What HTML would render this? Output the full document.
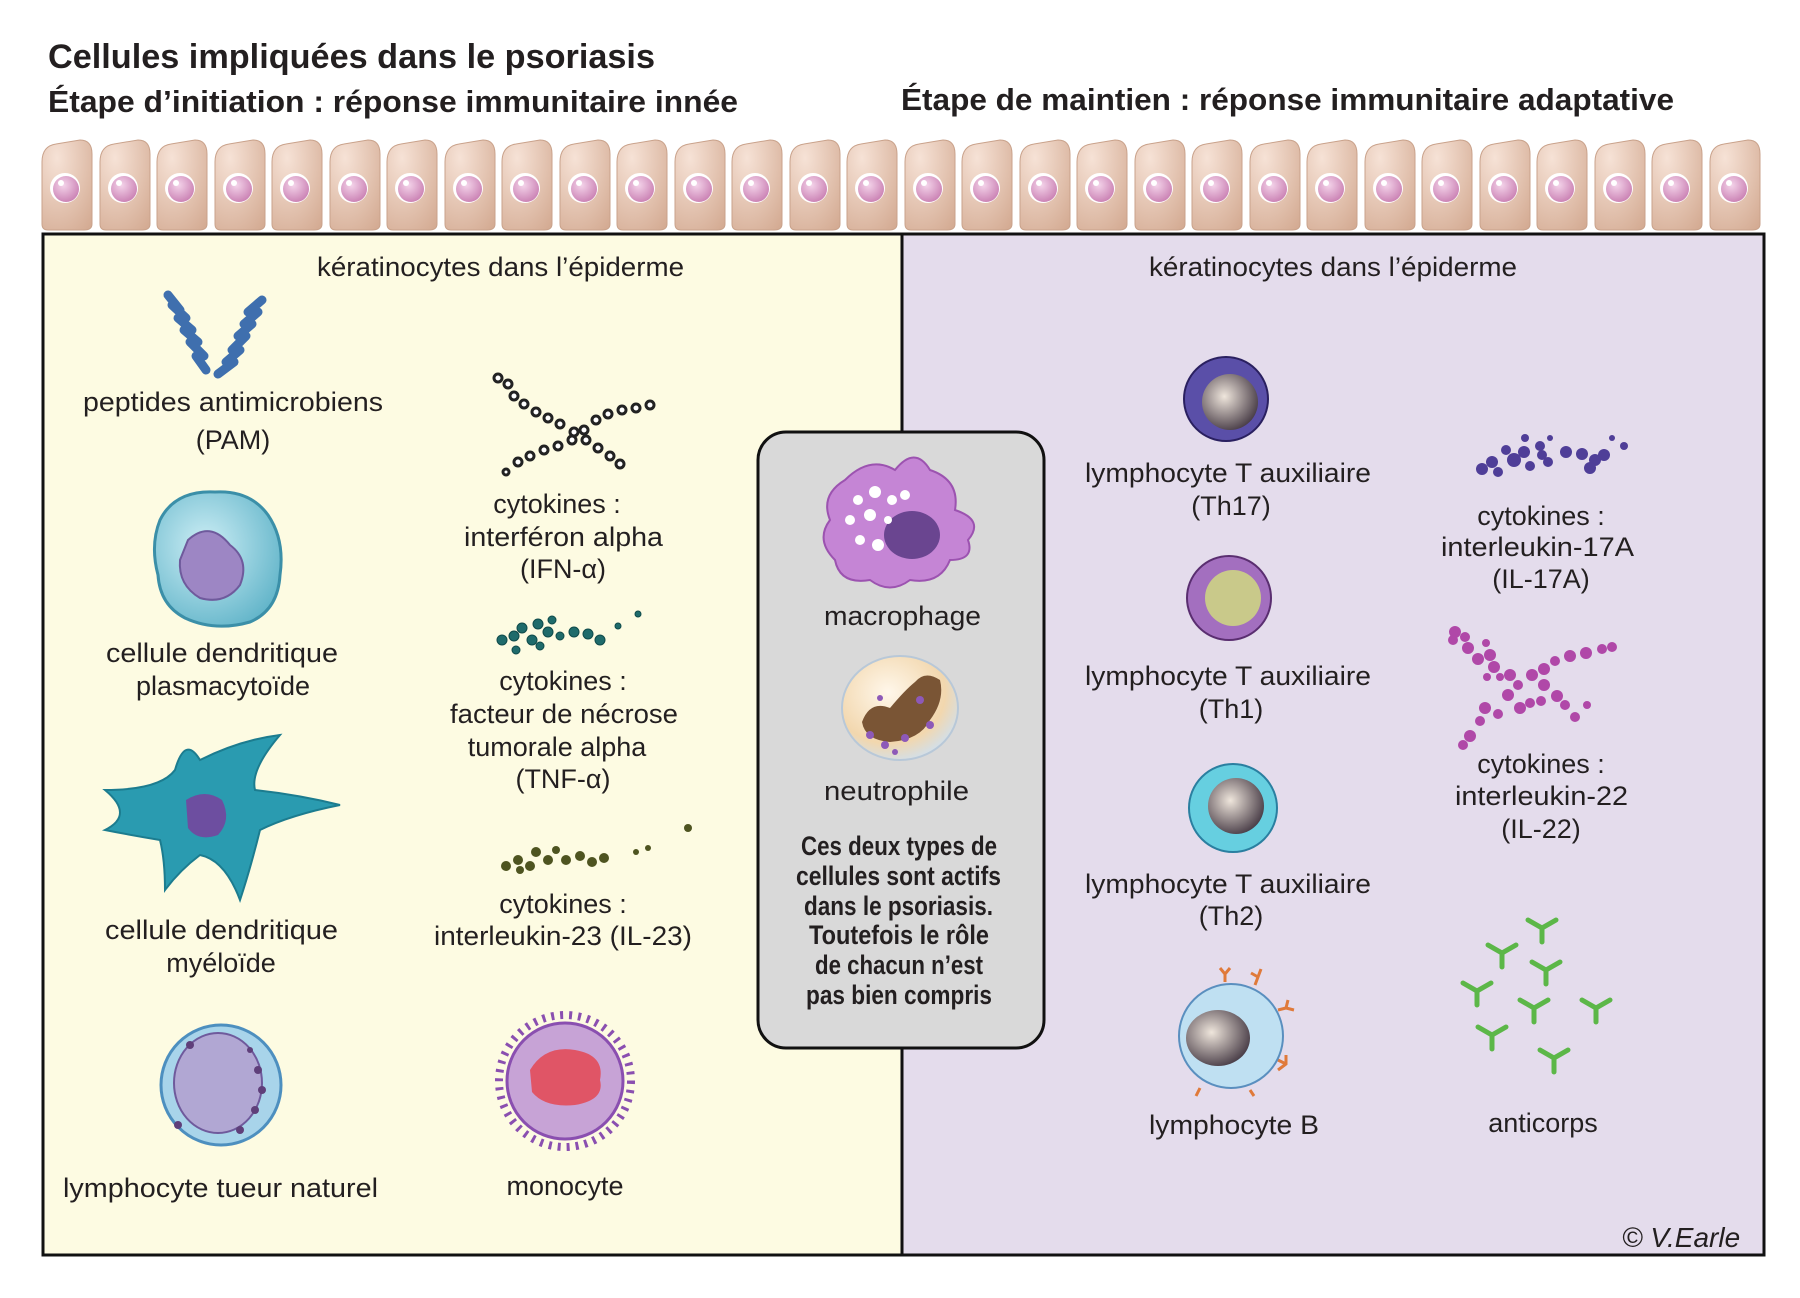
<!DOCTYPE html>
<html><head><meta charset="utf-8"><style>
html,body{margin:0;padding:0;background:#fff;}
svg{display:block;}
text{font-family:"Liberation Sans",sans-serif;fill:#231f20;}
.l{font-size:27px;}
.b{font-weight:bold;}
</style></head><body>
<svg width="1800" height="1298" viewBox="0 0 1800 1298" xmlns="http://www.w3.org/2000/svg">
<defs>
<radialGradient id="kg" cx="0.3" cy="0.2" r="1"><stop offset="0" stop-color="#f6e2d6"/><stop offset="1" stop-color="#d4ab93"/></radialGradient>
<radialGradient id="ng" cx="0.4" cy="0.35" r="0.7"><stop offset="0" stop-color="#f4d4ea"/><stop offset="1" stop-color="#c97fb2"/></radialGradient>
<g id="ker">
<path d="M2,22 Q2,6 16,4 L40,0 Q52,0 52,14 L52,84 Q52,90 44,90 L8,90 Q2,90 2,84 Z" fill="url(#kg)" stroke="#c9a28b" stroke-width="1"/>
<circle cx="25" cy="48" r="15" fill="#fff"/>
<circle cx="26" cy="49" r="13" fill="url(#ng)"/>
<circle cx="21" cy="43" r="3" fill="#fff"/>
</g>
<g id="ab"><path d="M0,0 L14,8 L28,0 M14,8 L14,22" stroke="#5cb748" stroke-width="5" fill="none" stroke-linecap="round"/></g>
<radialGradient id="pdc" cx="0.4" cy="0.4" r="0.7"><stop offset="0" stop-color="#cdeef5"/><stop offset="1" stop-color="#5fb3c8"/></radialGradient>
<radialGradient id="inner" cx="0.4" cy="0.4" r="0.7"><stop offset="0" stop-color="#efe6dc"/><stop offset="1" stop-color="#3a2e3a"/></radialGradient>
<radialGradient id="neut" cx="0.4" cy="0.35" r="0.7"><stop offset="0" stop-color="#fff7ea"/><stop offset="0.7" stop-color="#f2d7ae"/><stop offset="1" stop-color="#cfe0f0"/></radialGradient>
</defs>

<text x="48" y="68" class="b" font-size="34" textLength="607" lengthAdjust="spacingAndGlyphs">Cellules impliquées dans le psoriasis</text>
<text x="48" y="112" class="b" font-size="31" textLength="690" lengthAdjust="spacingAndGlyphs">Étape d’initiation : réponse immunitaire innée</text>
<text x="901" y="110" class="b" font-size="31" textLength="773" lengthAdjust="spacingAndGlyphs">Étape de maintien : réponse immunitaire adaptative</text>

<g>
<use href="#ker" x="40" y="140"/><use href="#ker" x="98" y="140"/><use href="#ker" x="155" y="140"/><use href="#ker" x="213" y="140"/><use href="#ker" x="270" y="140"/><use href="#ker" x="328" y="140"/><use href="#ker" x="385" y="140"/><use href="#ker" x="443" y="140"/><use href="#ker" x="500" y="140"/><use href="#ker" x="558" y="140"/><use href="#ker" x="615" y="140"/><use href="#ker" x="673" y="140"/><use href="#ker" x="730" y="140"/><use href="#ker" x="788" y="140"/><use href="#ker" x="845" y="140"/><use href="#ker" x="903" y="140"/><use href="#ker" x="960" y="140"/><use href="#ker" x="1018" y="140"/><use href="#ker" x="1075" y="140"/><use href="#ker" x="1133" y="140"/><use href="#ker" x="1190" y="140"/><use href="#ker" x="1248" y="140"/><use href="#ker" x="1305" y="140"/><use href="#ker" x="1363" y="140"/><use href="#ker" x="1420" y="140"/><use href="#ker" x="1478" y="140"/><use href="#ker" x="1535" y="140"/><use href="#ker" x="1593" y="140"/><use href="#ker" x="1650" y="140"/><use href="#ker" x="1708" y="140"/>
</g>

<rect x="43" y="234" width="859" height="1021" fill="#fdfbe2" stroke="#111" stroke-width="3"/>
<rect x="902" y="234" width="862" height="1021" fill="#e4dcec" stroke="#111" stroke-width="3"/>

<text x="317" y="276" class="l" textLength="367" lengthAdjust="spacingAndGlyphs">kératinocytes dans l’épiderme</text>
<text x="1149" y="276" class="l" textLength="368" lengthAdjust="spacingAndGlyphs">kératinocytes dans l’épiderme</text>

<g stroke="#3f6fae" stroke-width="9" fill="none" stroke-linecap="round">
<path d="M168,295 L180,310 M172,305 L186,318 M178,318 L192,330 M184,330 L198,342 M190,342 L204,356 M196,356 L206,370"/>
<path d="M262,300 L248,312 M258,312 L244,324 M252,324 L238,336 M246,336 L232,350 M240,350 L226,362 M234,362 L218,374"/>
</g>
<text x="83" y="411" class="l" textLength="300" lengthAdjust="spacingAndGlyphs">peptides antimicrobiens</text>
<text x="233" y="449" class="l" text-anchor="middle">(PAM)</text>

<path d="M160,520 Q175,490 215,492 Q250,490 268,515 Q285,540 280,575 Q278,610 250,622 Q215,632 185,618 Q160,605 158,575 Q150,545 160,520Z" fill="url(#pdc)" stroke="#3b8fa8" stroke-width="3"/>
<path d="M188,540 Q210,520 230,545 Q250,560 240,585 Q225,605 200,598 Q178,585 180,560Z" fill="#9d86c4" stroke="#6f5a9c" stroke-width="2"/>
<text x="106" y="662" class="l" textLength="232" lengthAdjust="spacingAndGlyphs">cellule dendritique</text>
<text x="223" y="695" class="l" text-anchor="middle">plasmacytoïde</text>

<path d="M105,790 Q160,790 175,770 Q185,735 200,760 Q240,740 280,735 Q250,770 255,790 Q300,795 340,805 Q290,815 260,830 Q250,870 240,900 Q225,860 200,855 Q180,870 165,890 Q165,860 160,840 Q130,835 105,830 Q135,815 105,790Z" fill="#2a9bb0" stroke="#1c7c8f" stroke-width="2"/>
<path d="M186,800 Q205,788 222,800 Q232,820 218,835 Q198,842 188,828Z" fill="#6d4ea0"/>
<text x="105" y="939" class="l" textLength="233" lengthAdjust="spacingAndGlyphs">cellule dendritique</text>
<text x="221" y="972" class="l" text-anchor="middle">myéloïde</text>

<circle cx="221" cy="1085" r="60" fill="#a8d4ea" stroke="#4d8fbf" stroke-width="3"/>
<ellipse cx="218" cy="1083" rx="44" ry="50" fill="#b1a7d3" stroke="#6f5a9c" stroke-width="2"/>
<g fill="#5f3f7a"><circle cx="258" cy="1070" r="4"/><circle cx="262" cy="1090" r="4"/><circle cx="255" cy="1110" r="4"/><circle cx="240" cy="1130" r="4"/><circle cx="190" cy="1045" r="4"/><circle cx="178" cy="1125" r="4"/><circle cx="250" cy="1050" r="3"/></g>
<text x="63" y="1197" class="l" textLength="315" lengthAdjust="spacingAndGlyphs">lymphocyte tueur naturel</text>

<g fill="#fff" stroke="#222" stroke-width="3">
<circle cx="498" cy="378" r="4"/><circle cx="508" cy="384" r="4"/><circle cx="514" cy="396" r="4"/><circle cx="524" cy="404" r="4"/><circle cx="536" cy="412" r="4"/><circle cx="548" cy="418" r="4"/><circle cx="560" cy="424" r="4"/><circle cx="574" cy="432" r="4"/><circle cx="586" cy="440" r="4"/><circle cx="598" cy="448" r="4"/><circle cx="610" cy="456" r="4"/><circle cx="620" cy="464" r="4"/>
<circle cx="650" cy="405" r="4"/><circle cx="636" cy="408" r="4"/><circle cx="622" cy="410" r="4"/><circle cx="608" cy="414" r="4"/><circle cx="596" cy="420" r="4"/><circle cx="584" cy="430" r="4"/><circle cx="572" cy="440" r="4"/><circle cx="558" cy="446" r="4"/><circle cx="544" cy="450" r="4"/><circle cx="530" cy="456" r="4"/><circle cx="518" cy="462" r="4"/><circle cx="506" cy="472" r="3"/>
</g>
<text x="557" y="513" class="l" text-anchor="middle">cytokines :</text>
<text x="464" y="546" class="l" textLength="199" lengthAdjust="spacingAndGlyphs">interféron alpha</text>
<text x="563" y="578" class="l" text-anchor="middle">(IFN-α)</text>

<g fill="#1f6b6b" stroke="#0f4a4a" stroke-width="1">
<circle cx="502" cy="640" r="5"/><circle cx="514" cy="636" r="5"/><circle cx="522" cy="628" r="5"/><circle cx="532" cy="640" r="5"/><circle cx="538" cy="624" r="5"/><circle cx="548" cy="632" r="5"/><circle cx="552" cy="620" r="4"/><circle cx="560" cy="636" r="4"/><circle cx="574" cy="632" r="5"/><circle cx="588" cy="634" r="5"/><circle cx="600" cy="640" r="5"/><circle cx="618" cy="626" r="3"/><circle cx="638" cy="614" r="3"/><circle cx="516" cy="650" r="4"/><circle cx="540" cy="646" r="4"/>
</g>
<text x="563" y="690" class="l" text-anchor="middle">cytokines :</text>
<text x="450" y="723" class="l" textLength="228" lengthAdjust="spacingAndGlyphs">facteur de nécrose</text>
<text x="557" y="756" class="l" text-anchor="middle">tumorale alpha</text>
<text x="563" y="788" class="l" text-anchor="middle">(TNF-α)</text>

<g fill="#4e5420">
<circle cx="506" cy="866" r="5"/><circle cx="518" cy="860" r="5"/><circle cx="530" cy="866" r="5"/><circle cx="536" cy="852" r="5"/><circle cx="548" cy="860" r="5"/><circle cx="556" cy="850" r="4"/><circle cx="566" cy="860" r="5"/><circle cx="580" cy="856" r="5"/><circle cx="592" cy="862" r="5"/><circle cx="604" cy="858" r="5"/><circle cx="636" cy="852" r="3"/><circle cx="648" cy="848" r="3"/><circle cx="688" cy="828" r="4"/><circle cx="520" cy="870" r="4"/>
</g>
<text x="563" y="913" class="l" text-anchor="middle">cytokines :</text>
<text x="434" y="945" class="l" textLength="258" lengthAdjust="spacingAndGlyphs">interleukin-23 (IL-23)</text>

<circle cx="565" cy="1081" r="66" fill="none" stroke="#8a4fb0" stroke-width="8" stroke-dasharray="3 6"/>
<circle cx="565" cy="1081" r="58" fill="#c7a3d6" stroke="#8a4fb0" stroke-width="3"/>
<path d="M530,1070 Q545,1045 575,1050 Q605,1055 600,1080 Q605,1100 575,1105 Q545,1108 532,1092Z" fill="#e05566"/>
<text x="565" y="1195" class="l" text-anchor="middle">monocyte</text>

<rect x="758" y="432" width="286" height="616" rx="28" fill="#d9d9d9" stroke="#111" stroke-width="3"/>
<path d="M845,480 Q870,455 895,470 Q915,445 930,470 Q960,480 955,510 Q985,520 968,540 Q975,560 950,560 Q940,585 910,580 Q890,595 870,580 Q840,585 835,560 Q815,540 830,520 Q820,495 845,480Z" fill="#c585d5" stroke="#9c53b0" stroke-width="2"/>
<ellipse cx="912" cy="535" rx="28" ry="24" fill="#6a4590"/>
<g fill="#fff"><circle cx="858" cy="500" r="5"/><circle cx="875" cy="492" r="6"/><circle cx="892" cy="500" r="5"/><circle cx="850" cy="520" r="5"/><circle cx="870" cy="515" r="6"/><circle cx="888" cy="520" r="4"/><circle cx="860" cy="540" r="5"/><circle cx="878" cy="545" r="6"/><circle cx="905" cy="495" r="5"/></g>
<text x="824" y="625" class="l" textLength="157" lengthAdjust="spacingAndGlyphs">macrophage</text>
<ellipse cx="900" cy="708" rx="58" ry="52" fill="url(#neut)" stroke="#b8c8d8" stroke-width="2"/>
<path d="M862,722 Q870,700 890,708 Q905,690 915,682 Q925,670 940,680 Q945,700 930,720 Q920,740 890,742 Q865,740 862,722Z" fill="#7a5535"/>
<g fill="#8d59b8"><circle cx="870" cy="735" r="4"/><circle cx="885" cy="745" r="4"/><circle cx="905" cy="738" r="4"/><circle cx="920" cy="700" r="4"/><circle cx="930" cy="725" r="4"/><circle cx="880" cy="698" r="3"/><circle cx="895" cy="752" r="3"/></g>
<text x="824" y="800" class="l" textLength="145" lengthAdjust="spacingAndGlyphs">neutrophile</text>
<g font-size="27">
<text x="801" y="855" textLength="196" lengthAdjust="spacingAndGlyphs" font-weight="bold">Ces deux types de</text>
<text x="796" y="885" textLength="205" lengthAdjust="spacingAndGlyphs" font-weight="bold">cellules sont actifs</text>
<text x="804" y="915" textLength="189" lengthAdjust="spacingAndGlyphs" font-weight="bold">dans le psoriasis.</text>
<text x="809" y="944" textLength="180" lengthAdjust="spacingAndGlyphs" font-weight="bold">Toutefois le rôle</text>
<text x="815" y="974" textLength="168" lengthAdjust="spacingAndGlyphs" font-weight="bold">de chacun n’est</text>
<text x="806" y="1004" textLength="186" lengthAdjust="spacingAndGlyphs" font-weight="bold">pas bien compris</text>
</g>

<circle cx="1226" cy="399" r="42" fill="#5a4fa8" stroke="#2a2060" stroke-width="2"/>
<circle cx="1230" cy="402" r="28" fill="url(#inner)"/>
<text x="1085" y="482" class="l" textLength="286" lengthAdjust="spacingAndGlyphs">lymphocyte T auxiliaire</text>
<text x="1231" y="515" class="l" text-anchor="middle">(Th17)</text>

<circle cx="1229" cy="598" r="42" fill="#a36fbf" stroke="#5a2e70" stroke-width="2"/>
<circle cx="1233" cy="598" r="28" fill="#c9c98a"/>
<text x="1085" y="685" class="l" textLength="286" lengthAdjust="spacingAndGlyphs">lymphocyte T auxiliaire</text>
<text x="1231" y="718" class="l" text-anchor="middle">(Th1)</text>

<circle cx="1233" cy="808" r="44" fill="#66cfe0" stroke="#2a7fa0" stroke-width="2"/>
<circle cx="1236" cy="806" r="28" fill="url(#inner)"/>
<text x="1085" y="893" class="l" textLength="286" lengthAdjust="spacingAndGlyphs">lymphocyte T auxiliaire</text>
<text x="1231" y="925" class="l" text-anchor="middle">(Th2)</text>

<g stroke="#e07a3a" stroke-width="3" fill="none">
<path d="M1225,982 l0,-8 m-5,-6 l5,6 l5,-6 M1255,985 l3,-8 m-7,-4 l7,4 l3,-8 M1278,1010 l8,-2 m2,-8 l-2,8 l8,2 M1278,1060 l8,4 m0,-9 l0,9 l-8,6 M1250,1090 l4,6 M1200,1088 l-4,8"/>
</g>
<circle cx="1231" cy="1036" r="52" fill="#bfe0f2" stroke="#5a8fbf" stroke-width="2"/>
<ellipse cx="1218" cy="1038" rx="32" ry="28" fill="url(#inner)"/>
<text x="1149" y="1134" class="l" textLength="170" lengthAdjust="spacingAndGlyphs">lymphocyte B</text>

<g fill="#4f3e98">
<circle cx="1482" cy="469" r="6"/><circle cx="1492" cy="462" r="6"/><circle cx="1498" cy="472" r="5"/><circle cx="1506" cy="450" r="5"/><circle cx="1514" cy="460" r="7"/><circle cx="1524" cy="452" r="6"/><circle cx="1530" cy="466" r="5"/><circle cx="1542" cy="455" r="5"/><circle cx="1548" cy="462" r="5"/><circle cx="1525" cy="438" r="4"/><circle cx="1540" cy="446" r="5"/><circle cx="1566" cy="452" r="6"/><circle cx="1582" cy="454" r="6"/><circle cx="1595" cy="460" r="6"/><circle cx="1604" cy="455" r="6"/><circle cx="1590" cy="468" r="6"/><circle cx="1624" cy="446" r="4"/><circle cx="1612" cy="438" r="3"/><circle cx="1550" cy="438" r="3"/>
</g>
<text x="1541" y="525" class="l" text-anchor="middle">cytokines :</text>
<text x="1441" y="556" class="l" textLength="193" lengthAdjust="spacingAndGlyphs">interleukin-17A</text>
<text x="1541" y="588" class="l" text-anchor="middle">(IL-17A)</text>

<g fill="#b048a8" transform="translate(0,45)">
<circle cx="1455" cy="587" r="6"/><circle cx="1465" cy="592" r="5"/><circle cx="1453" cy="595" r="5"/><circle cx="1468" cy="603" r="6"/><circle cx="1486" cy="598" r="4"/><circle cx="1490" cy="610" r="6"/><circle cx="1478" cy="614" r="6"/><circle cx="1494" cy="622" r="6"/><circle cx="1487" cy="632" r="4"/><circle cx="1500" cy="632" r="4"/><circle cx="1510" cy="630" r="6"/><circle cx="1518" cy="640" r="5"/><circle cx="1532" cy="630" r="6"/><circle cx="1544" cy="624" r="6"/><circle cx="1555" cy="616" r="5"/><circle cx="1570" cy="611" r="6"/><circle cx="1586" cy="608" r="6"/><circle cx="1602" cy="604" r="5"/><circle cx="1612" cy="602" r="5"/><circle cx="1544" cy="640" r="6"/><circle cx="1557" cy="651" r="6"/><circle cx="1565" cy="660" r="5"/><circle cx="1575" cy="672" r="5"/><circle cx="1508" cy="650" r="6"/><circle cx="1520" cy="663" r="6"/><circle cx="1485" cy="663" r="6"/><circle cx="1498" cy="669" r="5"/><circle cx="1480" cy="676" r="5"/><circle cx="1470" cy="691" r="6"/><circle cx="1463" cy="700" r="5"/><circle cx="1530" cy="658" r="5"/><circle cx="1541" cy="656" r="5"/><circle cx="1587" cy="660" r="4"/>
</g>
<text x="1541" y="773" class="l" text-anchor="middle">cytokines :</text>
<text x="1455" y="805" class="l" textLength="173" lengthAdjust="spacingAndGlyphs">interleukin-22</text>
<text x="1541" y="838" class="l" text-anchor="middle">(IL-22)</text>

<use href="#ab" x="1528" y="920"/><use href="#ab" x="1488" y="945"/><use href="#ab" x="1532" y="962"/><use href="#ab" x="1463" y="983"/><use href="#ab" x="1520" y="1000"/><use href="#ab" x="1582" y="1000"/><use href="#ab" x="1478" y="1027"/><use href="#ab" x="1540" y="1050"/>
<text x="1543" y="1132" class="l" text-anchor="middle">anticorps</text>

<text x="1622" y="1247" font-size="28" font-family="Liberation Serif" font-style="italic">© V.Earle</text>
</svg>
</body></html>
